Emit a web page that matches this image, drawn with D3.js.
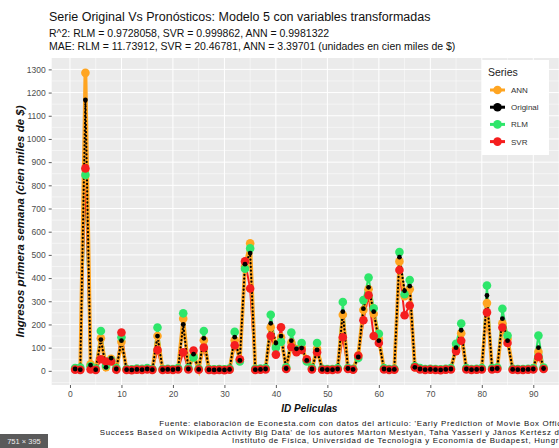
<!DOCTYPE html>
<html><head><meta charset="utf-8">
<script src="https://cdn.jsdelivr.net/npm/d3@7"></script>
<style>body{margin:0;background:#fff}svg{display:block;font-family:"Liberation Sans",Arial,sans-serif}</style>
</head><body><svg id="c" width="559" height="448"></svg>
<script>
const ids = [1,2,3,4,5,6,7,8,9,10,11,12,13,14,15,16,17,18,19,20,21,22,23,24,25,26,27,28,29,30,31,32,33,34,35,36,37,38,39,40,41,42,43,44,45,46,47,48,49,50,51,52,53,54,55,56,57,58,59,60,61,62,63,64,65,66,67,68,69,70,71,72,73,74,75,76,77,78,79,80,81,82,83,84,85,86,87,88,89,90,91,92];
const original = [8,5,1168,25,5,135,15,55,8,130, 5,4,6,5,8,5,150,5,6,5, 8,200,8,72,6,140,5,4,5,4, 6,145,45,460,508,5,6,8,205,120, 150,10,130,95,98,45,8,90,6,5, 5,8,255,10,6,60,268,360,255,130, 8,5,6,490,345,365,15,8,5,6, 5,4,6,8,100,175,8,5,6,8, 325,8,10,225,130,6,5,5,6,8, 100,10];
const ann = [9,6,1285,28,6,140,16,52,8,125, 6,5,6,6,8,6,150,6,6,6, 8,225,9,68,7,132,6,5,5,5, 7,132,48,450,550,6,7,9,188,112, 145,11,122,94,100,46,9,95,7,6, 6,9,242,11,7,66,262,352,246,138, 9,6,7,472,322,352,16,9,6,6, 6,5,6,9,96,162,9,6,6,9, 292,9,11,205,138,7,6,6,7,9, 82,11];
const rlm = [12,14,845,20,10,172,22,45,12,145, 8,7,10,9,12,8,187,8,9,8, 12,248,12,58,9,172,8,7,8,7, 10,168,40,440,528,9,10,12,242,100, 125,15,165,90,120,40,12,120,9,8, 8,12,297,12,9,55,305,402,270,160, 12,8,9,512,330,392,20,12,8,9, 8,7,9,12,117,204,12,8,9,12, 368,12,14,268,152,9,8,8,9,12, 152,14];
const svr = [5,4,873,6,4,50,40,40,5,165, 4,3,5,4,6,4,90,4,5,4, 6,80,6,88,5,100,4,3,4,3, 5,110,50,472,355,4,5,6,150,70, 188,8,103,80,90,50,6,80,5,4, 4,6,145,8,5,65,218,326,150,120, 6,4,5,435,240,282,15,6,4,5, 4,3,5,6,85,130,6,4,5,6, 252,6,8,187,120,5,4,4,5,6, 60,8];
const seriesNames = ["ANN","Original","RLM","SVR"];
const seriesColors = {ANN:"#FFA521", Original:"#000000", RLM:"#2EE66A", SVR:"#F51E1E"};
const xTicks = [0,10,20,30,40,50,60,70,80,90];
const yTicks = [0,100,200,300,400,500,600,700,800,900,1000,1100,1200,1300];
const titleText = "Serie Original Vs Pronósticos: Modelo 5 con variables transformadas";
const subtitleLines = ["R^2: RLM = 0.9728058, SVR = 0.999862, ANN = 0.9981322",
  "MAE: RLM = 11.73912, SVR = 20.46781, ANN = 3.39701 (unidades en cien miles de $)"];
const captionLines = ["Fuente: elaboración de Econesta.com con datos del artículo: 'Early Prediction of Movie Box Office",
  "Success Based on Wikipedia Activity Big Data' de los autores Márton Mestyán, Taha Yasseri y János Kertész del",
  "Instituto de Física, Universidad de Tecnología y Economía de Budapest, Hungría"];

const valuesBy = {ANN:ann, Original:original, RLM:rlm, SVR:svr};
const svg = d3.select("#c");
const P = {l:51.7, r:567, t:58, b:385};

const xr = d3.extent(ids), xe = (xr[1]-xr[0])*0.05;
const x = d3.scaleLinear().domain([xr[0]-xe, xr[1]+xe]).range([P.l, P.r]);
const allV = [].concat(original, ann, rlm, svr);
const yr = d3.extent(allV), ye = (yr[1]-yr[0])*0.05;
const y = d3.scaleLinear().domain([yr[0]-ye, yr[1]+ye]).range([P.b, P.t]);

// panel
svg.append("rect").attr("x",P.l).attr("y",P.t).attr("width",P.r-P.l).attr("height",P.b-P.t).attr("fill","#EBEBEB");
const g = svg.append("g");
const minorX = xTicks.map(v=>v+5).concat([-5]);
const minorY = yTicks.map(v=>v+50).concat([-50]).filter(v=>y(v)>P.t && y(v)<P.b);
g.selectAll(".mx").data(minorX.filter(v=>x(v)>P.l)).join("line").attr("x1",d=>x(d)).attr("x2",d=>x(d)).attr("y1",P.t).attr("y2",P.b).attr("stroke","#fff").attr("stroke-width",0.5);
g.selectAll(".my").data(minorY).join("line").attr("x1",P.l).attr("x2",P.r).attr("y1",d=>y(d)).attr("y2",d=>y(d)).attr("stroke","#fff").attr("stroke-width",0.5);
g.selectAll(".Mx").data(xTicks).join("line").attr("x1",d=>x(d)).attr("x2",d=>x(d)).attr("y1",P.t).attr("y2",P.b).attr("stroke","#fff").attr("stroke-width",1);
g.selectAll(".My").data(yTicks).join("line").attr("x1",P.l).attr("x2",P.r).attr("y1",d=>y(d)).attr("y2",d=>y(d)).attr("stroke","#fff").attr("stroke-width",1);

// axes
const xAxis = svg.append("g").attr("transform",`translate(0,${P.b})`).call(d3.axisBottom(x).tickValues(xTicks).tickFormat(d3.format("d")).tickSize(3).tickPadding(3));
const yAxis = svg.append("g").attr("transform",`translate(${P.l},0)`).call(d3.axisLeft(y).tickValues(yTicks).tickFormat(d3.format("d")).tickSize(3).tickPadding(3));
[xAxis,yAxis].forEach(a=>{a.select(".domain").remove();a.selectAll("line").attr("stroke","#333").attr("stroke-width",0.8);
  a.selectAll("text").attr("fill","#4D4D4D").style("font-size","8.5px").style("font-family","'Liberation Sans',Arial,sans-serif");});

// lines
const line = d3.line().x((d,i)=>x(ids[i])).y(d=>y(d));
const lg = svg.append("g");
lg.append("path").datum(rlm).attr("d",line).attr("fill","none").attr("stroke",seriesColors.RLM).attr("stroke-width",2);
lg.append("path").datum(svr).attr("d",line).attr("fill","none").attr("stroke",seriesColors.SVR).attr("stroke-width",2);
lg.append("path").datum(ann).attr("d",line).attr("fill","none").attr("stroke",seriesColors.ANN).attr("stroke-width",3.8);
lg.append("path").datum(original).attr("d",line).attr("fill","none").attr("stroke","#000").attr("stroke-width",2.2).attr("stroke-linecap","round").attr("stroke-dasharray","0.1,3.6");

// points
const pg = svg.append("g");
[["ANN",4.3],["RLM",4.3],["SVR",4.3],["Original",2.4]].forEach(([s,r])=>{
  pg.append("g").selectAll("circle").data(valuesBy[s]).join("circle")
    .attr("cx",(d,i)=>x(ids[i])).attr("cy",d=>y(d)).attr("r",r).attr("fill",seriesColors[s]);
});

// legend
const L = svg.append("g");
L.append("rect").attr("x",482).attr("y",60).attr("width",67).attr("height",95).attr("fill","#fff");
L.append("text").attr("x",488).attr("y",76).text("Series").style("font-size","10.5px").attr("fill","#222");
seriesNames.forEach((s,i)=>{
  const cy = 90 + i*17.2;
  L.append("line").attr("x1",490).attr("x2",505).attr("y1",cy).attr("y2",cy).attr("stroke",seriesColors[s]).attr("stroke-width",3);
  L.append("circle").attr("cx",497.5).attr("cy",cy).attr("r",4.3).attr("fill",seriesColors[s]);
  L.append("text").attr("x",511).attr("y",cy+2.9).text(s).style("font-size","8px").attr("fill","#333");
});

// titles
svg.append("text").attr("x",49).attr("y",21).text(titleText).style("font-size","12.5px").attr("fill","#111");
subtitleLines.forEach((t,i)=>svg.append("text").attr("x",49).attr("y",37+i*12.6).text(t).style("font-size","10.5px").attr("fill","#111"));
svg.append("text").attr("x",(P.l+P.r)/2).attr("y",411.5).attr("text-anchor","middle").text("ID Peliculas")
  .style("font-size","10px").style("font-weight","bold").style("font-style","italic").attr("fill","#111");
svg.append("text").attr("transform",`translate(24,${(P.t+P.b)/2}) rotate(-90)`).attr("text-anchor","middle")
  .text("Ingresos primera semana (cien miles de $)").style("font-size","11.5px").style("font-weight","bold").style("font-style","italic").attr("fill","#111");
captionLines.forEach((t,i)=>svg.append("text").attr("x",567).attr("y",426.2+i*8.4).attr("text-anchor","end").text(t)
  .style("font-size","7.9px").style("letter-spacing","0.68px").attr("fill","#111"));

// screenshot size badge
svg.append("rect").attr("x",0).attr("y",434).attr("width",48).attr("height",14).attr("fill","#5a5a5a");
svg.append("text").attr("x",24).attr("y",444).attr("text-anchor","middle").text("751 × 395").style("font-size","7.5px").attr("fill","#eee");
</script></body></html>
